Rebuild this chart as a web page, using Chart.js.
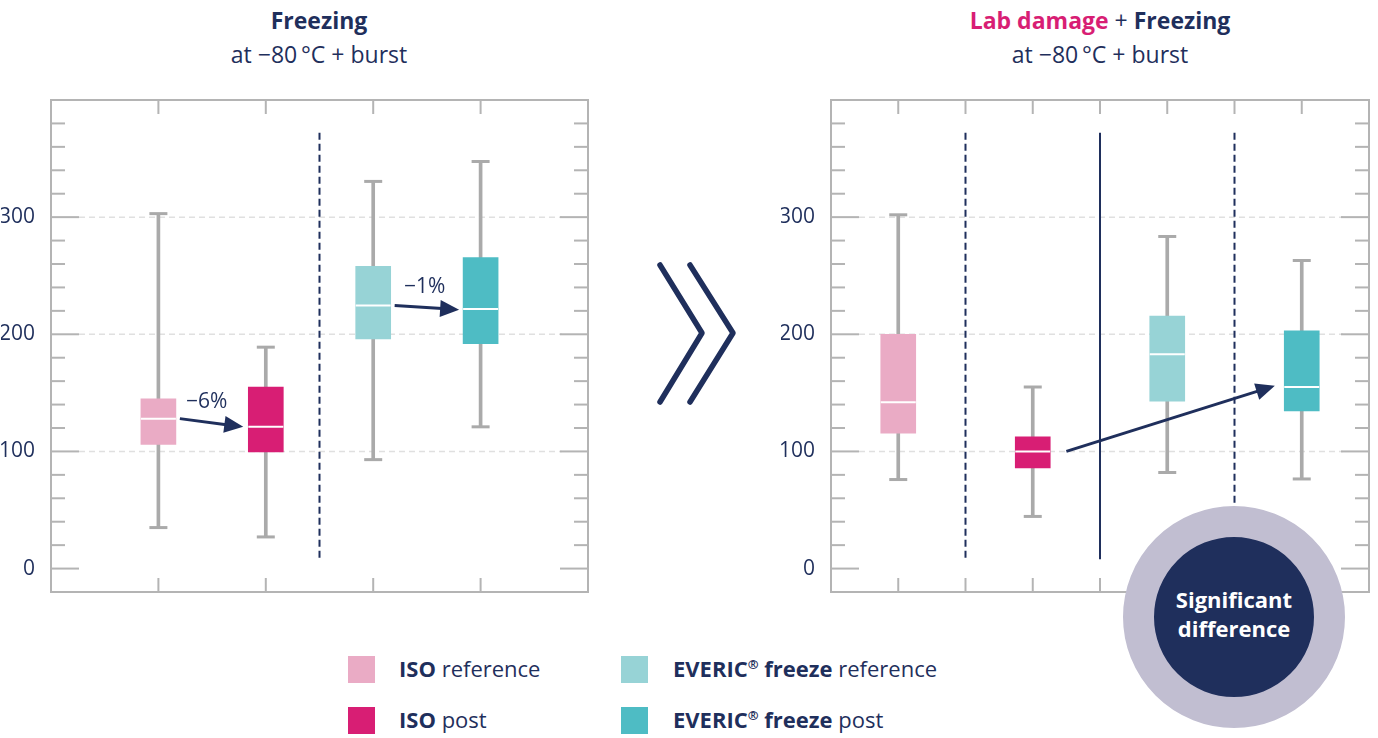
<!DOCTYPE html>
<html lang="en">
<head>
<meta charset="UTF-8">
<title>Freezing at -80 °C + burst</title>
<style>
    body {
        margin: 0;
        background: #fff;
        font-family: 'Open Sans', sans-serif;
        color: #1f2f5c;
    }
    .page {
        position: relative;
        width: 1378px;
        height: 738px;
        overflow: hidden;
    }
    .title {
        position: absolute;
        top: 3px;
        width: 500px;
        text-align: center;
        font-size: 23px;
        line-height: 34px;
    }
    .title b { font-weight: 700; }
    .title .pink { color: #d81e74; }
    canvas { position: absolute; }
    .chevrons { position: absolute; left: 640px; top: 250px; }
    .badge {
        position: absolute;
        left: 1123px;
        top: 506px;
        width: 160px;
        height: 160px;
        border: 31px solid #c1bed1;
        border-radius: 50%;
        background: #1f2f5c;
        color: #fff;
        font-weight: 700;
        font-size: 22px;
        line-height: 29px;
        display: flex;
        align-items: center;
        justify-content: center;
        text-align: center;
        z-index: 2;
    }
    .badge div { margin-top: -6px; }
    .legend-item {
        position: absolute;
        font-size: 22px;
        line-height: 27px;
        white-space: nowrap;
    }
    .legend-item span.sw {
        position: absolute;
        left: 0;
        top: 0;
        width: 27px;
        height: 27px;
    }
    .legend-item span.tx {
        position: absolute;
        top: -1px;
    }
    .legend-item b { font-weight: 700; }
    sup { font-size: 13px; line-height: 0; vertical-align: 8px; }
</style>
</head>
<body>
<div class="page">
    <div class="title" style="left:69px"><b>Freezing</b><br>at &minus;80&thinsp;°C + burst</div>
    <div class="title" style="left:850px"><b class="pink">Lab damage</b> + <b>Freezing</b><br>at &minus;80&thinsp;°C + burst</div>

    <canvas id="leftChart" width="600" height="496" style="left:0px; top:98px"></canvas>
    <canvas id="rightChart" width="600" height="496" style="left:780px; top:98px"></canvas>

    <svg class="chevrons" width="110" height="170">
        <polyline points="20,15 62,83 20,152" fill="none" stroke="#1f2f5c" stroke-width="5.5" stroke-linecap="round" stroke-linejoin="round"/>
        <polyline points="50,15 93,83 50,152" fill="none" stroke="#1f2f5c" stroke-width="5.5" stroke-linecap="round" stroke-linejoin="round"/>
    </svg>

    <div class="badge"><div>Significant<br>difference</div></div>

    <div class="legend-item" style="left:348px; top:656px"><span class="sw" style="background:#eaabc5"></span><span class="tx" style="left:51px"><b>ISO</b> reference</span></div>
    <div class="legend-item" style="left:348px; top:707px"><span class="sw" style="background:#d81e74"></span><span class="tx" style="left:51px"><b>ISO</b> post</span></div>
    <div class="legend-item" style="left:621px; top:656px"><span class="sw" style="background:#97d3d6"></span><span class="tx" style="left:52px"><b>EVERIC<sup>®</sup> freeze</b> reference</span></div>
    <div class="legend-item" style="left:621px; top:707px"><span class="sw" style="background:#4ebcc4"></span><span class="tx" style="left:52px"><b>EVERIC<sup>®</sup> freeze</b> post</span></div>
</div>

<script src="https://cdn.jsdelivr.net/npm/chart.js"></script>
<script>
    // groups, in the order they appear in each panel
    const groups = ['ISO reference', 'ISO post', 'EVERIC® freeze reference', 'EVERIC® freeze post'];
    const yTickLabels = [0, 100, 200, 300];

    // left panel: Freezing at -80 °C + burst
    const leftPositions = [1, 2, 3, 4];
    const leftMin = [35, 27, 93, 121];
    const leftQ1 = [106, 99.5, 196, 192];
    const leftMedian = [128, 121, 224.5, 221.5];
    const leftQ3 = [145, 155, 258, 265.5];
    const leftMax = [303, 189, 330.5, 347.5];

    // right panel: Lab damage + Freezing at -80 °C + burst
    const rightPositions = [1, 3, 5, 7];
    const rightMin = [76, 44.5, 82, 76.5];
    const rightQ1 = [115.5, 86, 143, 134.5];
    const rightMedian = [142, 100, 183, 155];
    const rightQ3 = [200, 112.5, 215.5, 203];
    const rightMax = [302, 155, 283.5, 263];

    const boxColors = ['#eaabc5', '#d81e74', '#97d3d6', '#4ebcc4'];
    const navy = '#1f2f5c';

    function line(ctx, x1, y1, x2, y2) {
        ctx.beginPath();
        ctx.moveTo(x1, y1);
        ctx.lineTo(x2, y2);
        ctx.stroke();
    }

    const boxPlugin = {
        id: 'boxExtras',
        beforeDatasetsDraw(chart, args, o) {
            const { ctx, chartArea: a, scales: { x, y } } = chart;
            ctx.save();
            // dashed grid lines
            ctx.strokeStyle = '#e0e0e0';
            ctx.lineWidth = 1.5;
            ctx.setLineDash([6, 4]);
            yTickLabels.forEach(v => {
                if (v === 0) return;
                const py = y.getPixelForValue(v);
                line(ctx, a.left + 28, py, a.right - 26, py);
            });
            // group separators
            ctx.strokeStyle = navy;
            ctx.lineWidth = 2;
            o.separators.forEach(s => {
                ctx.setLineDash(s.dashed ? [7, 4] : []);
                const px = x.getPixelForValue(s.x);
                line(ctx, px, y.getPixelForValue(s.top), px, y.getPixelForValue(s.bottom));
            });
            // frame with inward ticks
            ctx.setLineDash([]);
            ctx.strokeStyle = '#b4b4b4';
            ctx.lineWidth = 2;
            y.ticks.forEach(t => {
                if (t.value <= y.min || t.value >= y.max) return;
                const len = t.value % 100 === 0 ? 28 : 14;
                const py = y.getPixelForValue(t.value);
                line(ctx, a.left, py, a.left + len, py);
                line(ctx, a.right, py, a.right - len, py);
            });
            o.xTicks.forEach(v => {
                const px = x.getPixelForValue(v);
                line(ctx, px, a.top, px, a.top + 14);
                line(ctx, px, a.bottom, px, a.bottom - 14);
            });
            ctx.strokeRect(a.left, a.top, a.width, a.height);
            ctx.restore();
        },
        afterDatasetsDraw(chart, args, o) {
            const { ctx, scales: { x, y } } = chart;
            const boxes = chart.getDatasetMeta(1).data;
            ctx.save();
            // whisker caps
            ctx.strokeStyle = '#aaaaaa';
            ctx.lineWidth = 3;
            o.positions.forEach((p, i) => {
                const px = x.getPixelForValue(p);
                [o.min[i], o.max[i]].forEach(v => {
                    const py = y.getPixelForValue(v);
                    line(ctx, px - 9, py, px + 9, py);
                });
            });
            // medians
            ctx.strokeStyle = '#ffffff';
            ctx.lineWidth = 2;
            o.median.forEach((m, i) => {
                const b = boxes[i];
                const py = y.getPixelForValue(m);
                line(ctx, b.x - b.width / 2, py, b.x + b.width / 2, py);
            });
            // change arrows
            ctx.strokeStyle = navy;
            ctx.fillStyle = navy;
            ctx.lineWidth = 3;
            o.arrows.forEach(ar => {
                const x1 = x.getPixelForValue(ar.from[0]), y1 = y.getPixelForValue(ar.from[1]);
                const x2 = x.getPixelForValue(ar.to[0]), y2 = y.getPixelForValue(ar.to[1]);
                const ang = Math.atan2(y2 - y1, x2 - x1);
                const hl = 19, hw = 8.5;
                const bx = x2 - hl * Math.cos(ang), by = y2 - hl * Math.sin(ang);
                line(ctx, x1, y1, bx + 2 * Math.cos(ang), by + 2 * Math.sin(ang));
                ctx.beginPath();
                ctx.moveTo(x2, y2);
                ctx.lineTo(bx - hw * Math.sin(ang), by + hw * Math.cos(ang));
                ctx.lineTo(bx + hw * Math.sin(ang), by - hw * Math.cos(ang));
                ctx.closePath();
                ctx.fill();
                if (ar.label) {
                    ctx.font = '21px "Open Sans"';
                    ctx.textAlign = 'center';
                    ctx.textBaseline = 'middle';
                    ctx.fillText(ar.label, x.getPixelForValue(ar.labelAt[0]), y.getPixelForValue(ar.labelAt[1]));
                }
            });
            ctx.restore();
        }
    };

    function makeChart(id, positions, min, q1, median, q3, max, xMax, extras, padRight) {
        return new Chart(document.getElementById(id), {
            type: 'bar',
            data: {
                datasets: [{
                    label: 'whisker',
                    data: positions.map((p, i) => ({ x: p, y: [min[i], max[i]] })),
                    backgroundColor: '#aaaaaa',
                    barThickness: 3,
                    grouped: false,
                    order: 2
                }, {
                    label: 'box',
                    data: positions.map((p, i) => ({ x: p, y: [q1[i], q3[i]] })),
                    backgroundColor: boxColors,
                    barThickness: 35,
                    grouped: false,
                    order: 1
                }]
            },
            options: {
                responsive: false,
                animation: false,
                layout: { padding: { left: 1, top: 2, bottom: 2, right: padRight } },
                plugins: {
                    legend: { display: false },
                    tooltip: { enabled: false },
                    boxExtras: Object.assign({ positions, min, median, max }, extras)
                },
                scales: {
                    x: { type: 'linear', min: 0, max: xMax, offset: false, display: false },
                    y: {
                        min: -20,
                        max: 400,
                        grid: { display: false },
                        border: { display: false },
                        ticks: {
                            stepSize: 20,
                            autoSkip: false,
                            padding: 8,
                            color: navy,
                            font: { family: 'Open Sans', size: 21 },
                            callback: v => yTickLabels.includes(v) ? String(v) : ''
                        },
                        afterFit(s) {
                            s.width = 50;
                            s.paddingTop = 0;
                            s.paddingBottom = 0;
                        }
                    }
                }
            },
            plugins: [boxPlugin]
        });
    }

    makeChart('leftChart', leftPositions, leftMin, leftQ1, leftMedian, leftQ3, leftMax, 5, {
        xTicks: [1, 2, 3, 4],
        separators: [{ x: 2.5, top: 372, bottom: 7, dashed: true }],
        arrows: [
            { from: [1.2, 128], to: [1.79, 121], label: '\u22126%', labelAt: [1.45, 142] },
            { from: [3.2, 224.5], to: [3.8, 221], label: '\u22121%', labelAt: [3.48, 240] }
        ]
    }, 12);

    makeChart('rightChart', rightPositions, rightMin, rightQ1, rightMedian, rightQ3, rightMax, 8, {
        xTicks: [1, 2, 3, 4, 5, 6, 7],
        separators: [
            { x: 2, top: 372, bottom: 8, dashed: true },
            { x: 4, top: 372, bottom: 8, dashed: false },
            { x: 6, top: 372, bottom: 55, dashed: true }
        ],
        arrows: [
            { from: [3.5, 100], to: [6.6, 156] }
        ]
    }, 11);
</script>
</body>
</html>
